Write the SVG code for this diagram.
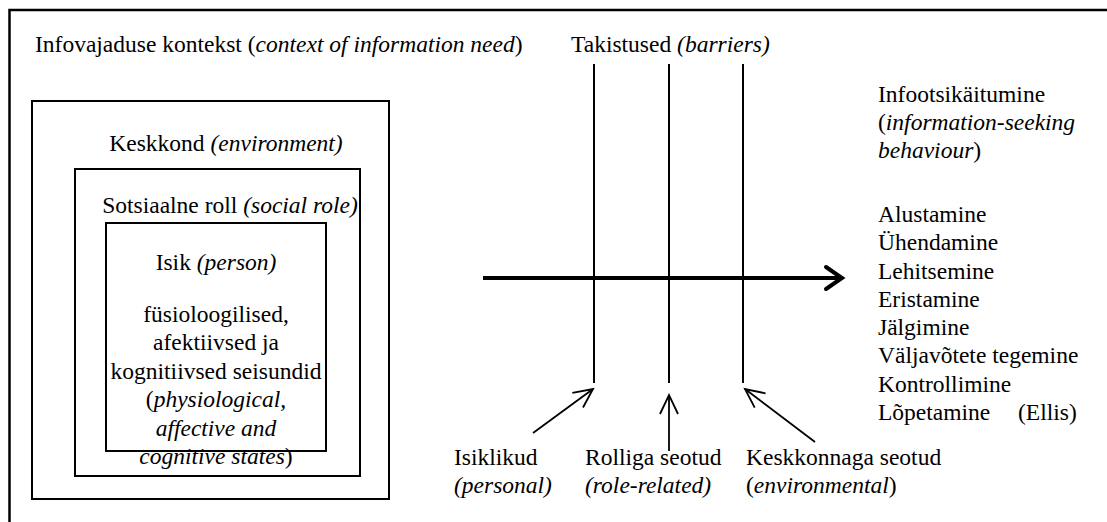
<svg xmlns="http://www.w3.org/2000/svg" width="1107" height="522" viewBox="0 0 1107 522">
<style>
text{font-family:"Liberation Serif","Times New Roman",serif;font-size:23.5px;fill:#000}
.c{text-anchor:middle}
.i{font-style:italic}
.box{fill:none;stroke:#000;stroke-width:2}
.bar{stroke:#000;stroke-width:2;fill:none}
.arr{stroke:#000;stroke-width:1.8;fill:none}
</style>
<defs>
<marker id="head" viewBox="0 0 20 20" refX="19" refY="10" markerWidth="20" markerHeight="20" markerUnits="userSpaceOnUse" orient="auto" overflow="visible">
<path d="M0 1 L19 10 L0 19" fill="none" stroke="#000" stroke-width="1.8"/>
</marker>
</defs>
<rect width="1107" height="522" fill="#fff"/>
<g id="context">
<path d="M9.5 530 V10 H1110" fill="none" stroke="#000" stroke-width="2.5"/>
<text x="35" y="52">Infovajaduse kontekst (<tspan class="i">context of information need</tspan>)</text>
</g>
<g id="environment">
<rect x="32" y="101" width="357" height="398" class="box"/>
<text x="226" y="151" class="c">Keskkond <tspan class="i">(environment)</tspan></text>
</g>
<g id="socialrole">
<rect x="75" y="169" width="285" height="307" class="box"/>
<text x="230" y="213" class="c">Sotsiaalne roll <tspan class="i">(social role)</tspan></text>
</g>
<g id="person">
<rect x="106" y="223" width="220" height="228" class="box"/>
<text x="216" y="270" class="c">Isik <tspan class="i">(person)</tspan></text>
<text x="216" y="322" class="c">füsioloogilised,</text>
<text x="216" y="350" class="c">afektiivsed ja</text>
<text x="216" y="379" class="c">kognitiivsed seisundid</text>
<text x="216" y="407" class="c">(<tspan class="i">physiological,</tspan></text>
<text x="216" y="436" class="c i">affective and</text>
<text x="216" y="464" class="c"><tspan class="i">cognitive states</tspan>)</text>
</g>
<g id="barriers">
<text x="571" y="52">Takistused <tspan class="i">(barriers)</tspan></text>
</g>
<g id="behaviour">
<text x="878" y="102">Infootsikäitumine</text>
<text x="878" y="130">(<tspan class="i">information-seeking</tspan></text>
<text x="878" y="158"><tspan class="i">behaviour</tspan>)</text>
<text x="878" y="222">Alustamine</text>
<text x="878" y="250">Ühendamine</text>
<text x="878" y="278.5">Lehitsemine</text>
<text x="878" y="307">Eristamine</text>
<text x="878" y="335">Jälgimine</text>
<text x="878" y="363">Väljavõtete tegemine</text>
<text x="878" y="392">Kontrollimine</text>
<text x="878" y="420">Lõpetamine<tspan x="1018">(Ellis)</tspan></text>
</g>
<g id="personal">
<text x="454" y="465">Isiklikud</text>
<text x="454" y="493" class="i">(personal)</text>
</g>
<g id="rolerelated">
<text x="585" y="465">Rolliga seotud</text>
<text x="585" y="493" class="i">(role-related)</text>
</g>
<g id="environmental">
<text x="746" y="465">Keskkonnaga seotud</text>
<text x="746" y="493">(<tspan class="i">environmental</tspan>)</text>
</g>
<g id="connectors">
<line x1="594" y1="64" x2="594" y2="383" class="bar"/>
<line x1="669" y1="64" x2="669" y2="383" class="bar"/>
<line x1="743" y1="64" x2="743" y2="383" class="bar"/>
<line x1="483" y1="278" x2="842" y2="278" stroke="#000" stroke-width="4"/>
<path d="M826 267 L842 278 L826 289" fill="none" stroke="#000" stroke-width="4" stroke-linecap="round"/>
<line x1="533" y1="433" x2="593" y2="389" class="arr" marker-end="url(#head)"/>
<line x1="669" y1="451" x2="669" y2="395" class="arr" marker-end="url(#head)"/>
<line x1="815" y1="442" x2="745" y2="389" class="arr" marker-end="url(#head)"/>
</g>
</svg>
